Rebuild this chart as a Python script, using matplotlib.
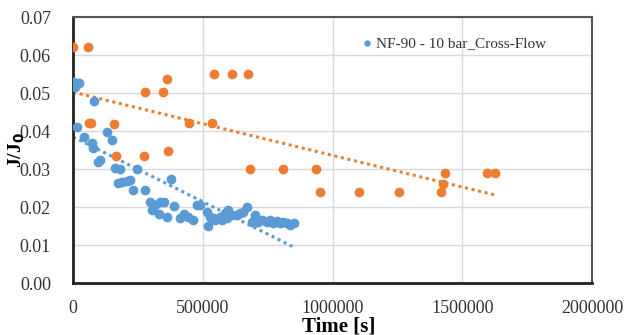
import numpy as np
import matplotlib
matplotlib.use("Agg")
import matplotlib.pyplot as plt

plt.rcParams['font.family'] = ['Liberation Serif', 'DejaVu Serif']

# NF-90 - 10 bar_Cross-Flow (blue)
t_nf90 = [0, 8000, 15000, 15000, 23000, 42000, 73000, 77000, 81000, 96000,
          104000, 131000, 150000, 162000, 173000, 181000, 188000, 208000, 219000, 231000,
          246000, 277000, 296000, 304000, 315000, 331000, 335000, 350000, 362000, 377000,
          388000, 412000, 427000, 442000, 462000, 477000, 488000, 515000, 519000, 527000,
          538000, 546000, 565000, 573000, 585000, 592000, 596000, 612000, 631000, 642000,
          654000, 669000, 688000, 700000, 712000, 727000, 746000, 758000, 769000, 785000,
          796000, 808000, 823000, 835000, 850000]
j_nf90 = [0.0529, 0.0516, 0.0526, 0.0411, 0.0526, 0.0384, 0.0368, 0.0355, 0.0479, 0.0318,
          0.0324, 0.0397, 0.0376, 0.0303, 0.0263, 0.0300, 0.0266, 0.0268, 0.0271, 0.0245,
          0.0300, 0.0245, 0.0213, 0.0192, 0.0205, 0.0182, 0.0213, 0.0213, 0.0174, 0.0274,
          0.0203, 0.0171, 0.0182, 0.0174, 0.0166, 0.0205, 0.0205, 0.0187, 0.0150, 0.0174,
          0.0171, 0.0166, 0.0174, 0.0166, 0.0184, 0.0171, 0.0192, 0.0179, 0.0179, 0.0184,
          0.0187, 0.0200, 0.0161, 0.0179, 0.0161, 0.0166, 0.0161, 0.0166, 0.0158, 0.0163,
          0.0158, 0.0161, 0.0158, 0.0153, 0.0158]

# second series (orange)
t_other = [0, 57000, 60000, 69000, 158000, 165000, 273000, 277000, 346000, 361000,
           366000, 447000, 537000, 542000, 611000, 673000, 681000, 808000, 938000, 950000,
           1104000, 1258000, 1419000, 1427000, 1435000, 1596000, 1627000]
j_other = [0.062, 0.062, 0.042, 0.0422, 0.0418, 0.0334, 0.0334, 0.0504, 0.0504, 0.0537,
           0.0347, 0.0421, 0.0421, 0.055, 0.055, 0.055, 0.030, 0.030, 0.030, 0.024,
           0.024, 0.024, 0.024, 0.026, 0.029, 0.029, 0.029]

blue = '#5B9BD5'
orange = '#ED7D31'

fig = plt.figure(figsize=(6.25, 3.35), dpi=100)
ax = fig.add_axes([0.117, 0.155, 0.830, 0.794])

ax.scatter(t_other, j_other, s=36, color=orange, zorder=3)
ax.scatter(t_nf90, j_nf90, s=36, color=blue, zorder=4, label='NF-90 - 10 bar_Cross-Flow')

# linear trendlines
for t, j, c in [(t_nf90, j_nf90, blue), (t_other, j_other, orange)]:
    t = np.array(t, dtype=float)
    p = np.polyfit(t, j, 1)
    xs = np.array([t.min(), t.max()])
    ax.plot(xs, np.polyval(p, xs), color=c, linestyle=(0, (1, 1.2)), linewidth=2.2, zorder=2)

ax.set_xlim(0, 2000000)
ax.set_ylim(0, 0.07)
ax.set_xticks([0, 500000, 1000000, 1500000, 2000000])
ax.set_xticklabels(['0', '500000', '1000000', '1500000', '2000000'])
ax.set_yticks(np.arange(0, 0.071, 0.01))
ax.set_yticklabels(['%.2f' % v for v in np.arange(0, 0.071, 0.01)])
ax.tick_params(length=0, labelsize=13, colors='#333333')
ax.tick_params(axis='y', pad=16)
ax.tick_params(axis='x', pad=12)
ax.grid(True, color='#d9d9d9', linewidth=1)
ax.set_axisbelow(True)
for s in ['top', 'right']:
    ax.spines[s].set_color('#555555')
    ax.spines[s].set_linewidth(1.5)
for s in ['left', 'bottom']:
    ax.spines[s].set_color('#222222')
    ax.spines[s].set_linewidth(2)

ax.set_xlabel('Time [s]', fontsize=15, fontweight='bold')
ax.set_ylabel('J/J$_\\mathbf{0}$', fontsize=14, fontweight='bold')
ax.xaxis.set_label_coords(0.511, -0.125)
ax.yaxis.set_label_coords(-0.088, 0.50)

leg = ax.legend(loc='center left', bbox_to_anchor=(0.551, 0.902), frameon=False,
                fontsize=11, handletextpad=0.1, handlelength=1.0, markerscale=0.6,
                borderpad=0, borderaxespad=0)
for txt in leg.get_texts():
    txt.set_color('#333333')

fig.savefig('out.png', dpi=100)
